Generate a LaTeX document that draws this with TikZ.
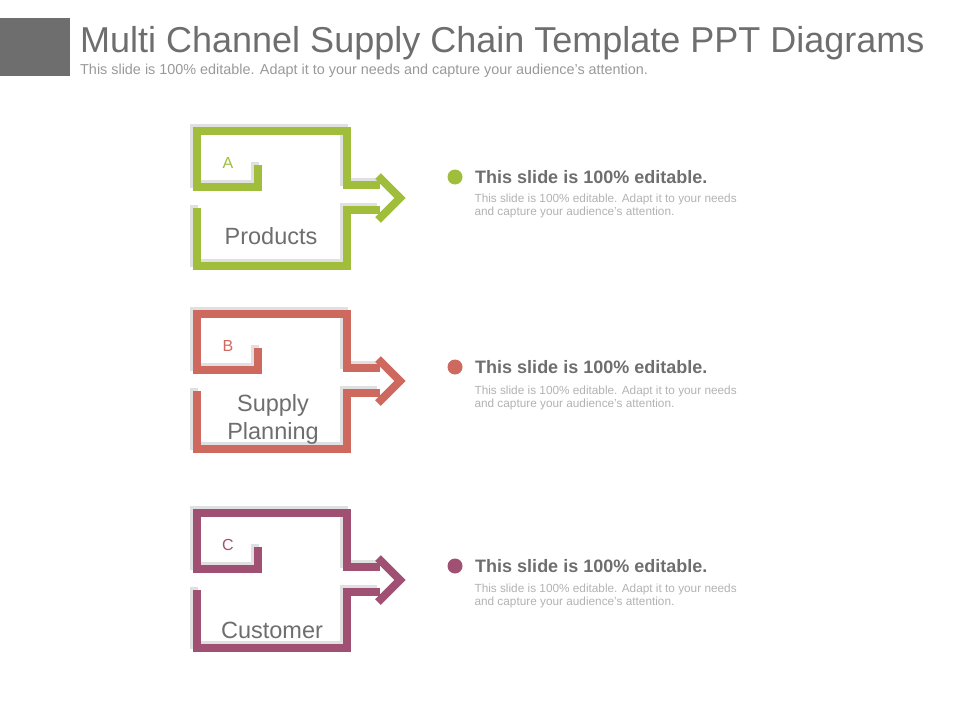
\documentclass[tikz,border=0pt]{standalone}
\usepackage{fontspec}
\setmainfont{Liberation Sans}
\usetikzlibrary{positioning}
\definecolor{grn}{RGB}{160,190,60}
\definecolor{red}{RGB}{205,105,95}
\definecolor{plum}{RGB}{160,80,115}
\definecolor{txt}{RGB}{110,110,110}
\newcommand{\chainshape}[3]{%
  % upper and lower frame strokes with the arrow
  \begin{scope}[yshift=-#1pt]
    \draw[frame, shadowc, xshift=-3pt, yshift=3pt] (258,-165) -- (258,-187) -- (197,-187) -- (197,-131) -- (347,-131) -- (347,-185) -- (380,-185);
    \draw[frame, shadowc, xshift=-3pt, yshift=3pt] (197,-208) -- (197,-266) -- (347,-266) -- (347,-210) -- (380,-210);
    \draw[frame, #2] (258,-165) -- (258,-187) -- (197,-187) -- (197,-131) -- (347,-131) -- (347,-185) -- (380,-185);
    \draw[frame, #2] (197,-208) -- (197,-266) -- (347,-266) -- (347,-210) -- (380,-210);
    \draw[frame, #2, line join=miter] (378,-176) -- (400,-198) -- (378,-220);
    \node[letter, text=#2] at (228,-163) {#3};
  \end{scope}}
\begin{document}
\begin{tikzpicture}[x=1pt, y=1pt,
    frame/.style={line width=8pt, line join=miter},
    shadowc/.style={draw=black!12},
    letter/.style={font=\fontsize{16}{18}\selectfont},
    label/.style={font=\fontsize{23.5}{28}\selectfont, text=txt, align=center},
    head/.style={font=\bfseries\fontsize{18}{20}\selectfont, text=txt, anchor=west},
    body/.style={font=\fontsize{11.8}{13}\selectfont, text=black!30, anchor=north west, align=left},
    dot/.style={circle, minimum size=15pt, inner sep=0pt}
  ]
  \useasboundingbox (0,0) rectangle (960,-720);
  \fill[txt] (0,-18) rectangle (70,-76);
  \node[anchor=base west, font=\fontsize{36}{40}\selectfont, text=txt, inner sep=0pt] (title) at (80,-52) {Multi Channel Supply Chain Template PPT Diagrams};
  \node[anchor=base west, font=\fontsize{14.4}{16}\selectfont, text=black!40, inner sep=0pt] (subtitle) at (80,-74) {This slide is 100\% editable. Adapt it to your needs and capture your audience's attention.};

  \chainshape{0}{grn}{A}
  \chainshape{183}{red}{B}
  \chainshape{382}{plum}{C}

  \node[label] (products) at (271,-236) {Products};
  \node[label] (planning) at (273,-419) {Supply\\Planning};
  \node[label] (customer) at (272,-630) {Customer};

  \node[dot, fill=grn] (dota) at (455,-177) {};
  \node[dot, fill=red] (dotb) at (455,-367) {};
  \node[dot, fill=plum] (dotc) at (455,-566) {};

  \node[head, right=9pt of dota] (heada) {This slide is 100\% editable.};
  \node[head, right=9pt of dotb] (headb) {This slide is 100\% editable.};
  \node[head, right=9pt of dotc] (headc) {This slide is 100\% editable.};

  \node[body] (bodya) at (471,-190) {This slide is 100\% editable. Adapt it to your needs\\and capture your audience's attention.};
  \node[body] (bodyb) at (471,-382) {This slide is 100\% editable. Adapt it to your needs\\and capture your audience's attention.};
  \node[body] (bodyc) at (471,-580) {This slide is 100\% editable. Adapt it to your needs\\and capture your audience's attention.};
\end{tikzpicture}
\end{document}
